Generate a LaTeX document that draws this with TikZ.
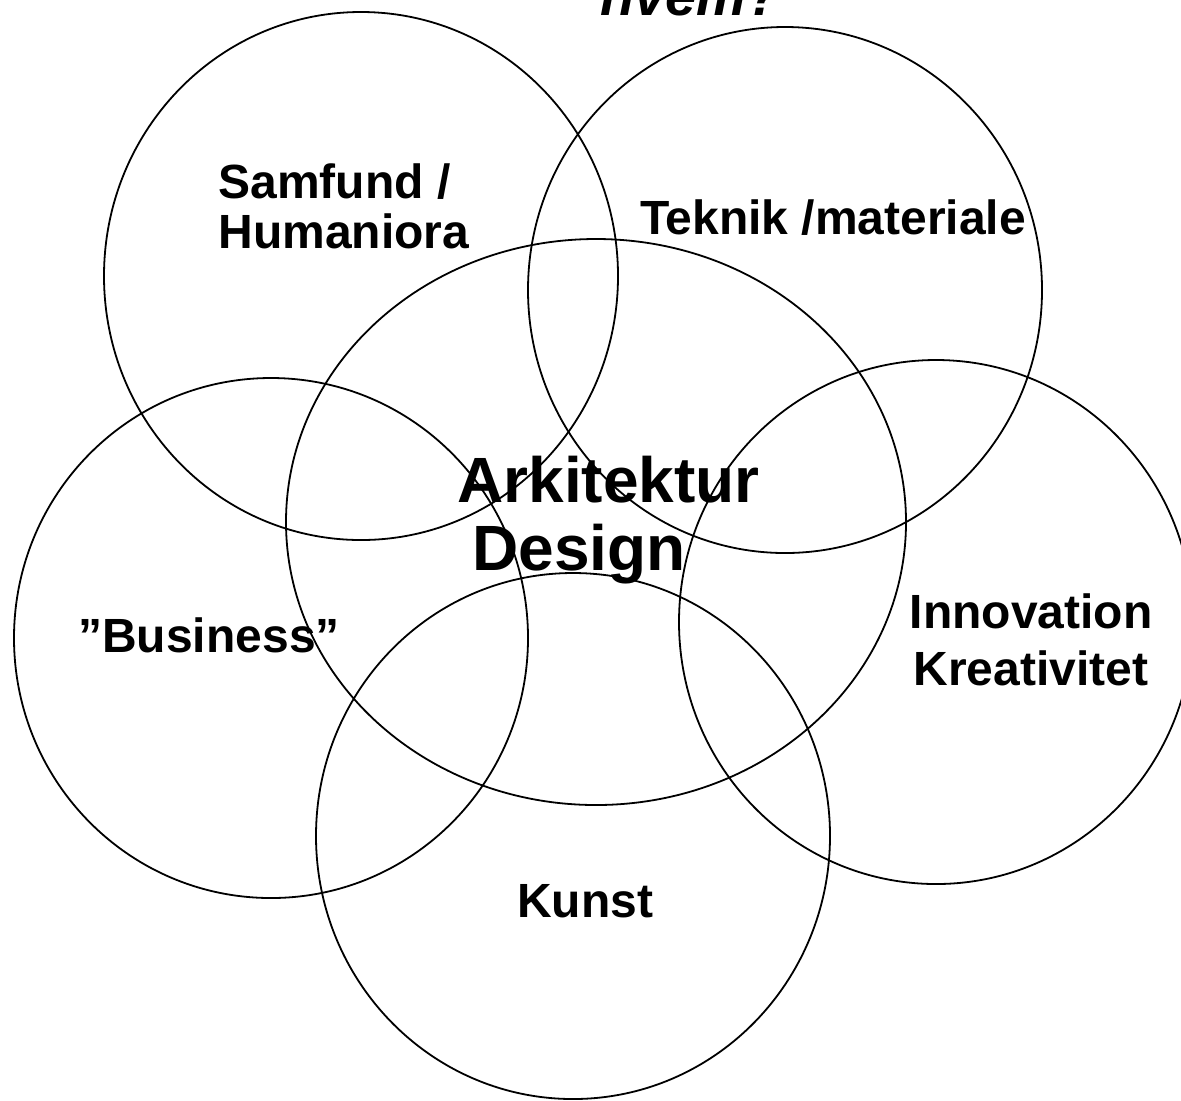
\documentclass[tikz,border=0pt]{standalone}
\usepackage{fontspec}
\setmainfont{Liberation Sans}
\begin{document}
\begin{tikzpicture}[x=0.5pt,y=-0.5pt,
  ring/.style={draw=black,line width=0.9pt},
  lbl/.style={font=\bfseries\fontsize{24}{28}\selectfont,inner sep=0pt},
  big/.style={font=\bfseries\fontsize{32}{36}\selectfont,inner sep=0pt}]
\useasboundingbox (0,0) rectangle (1181,1100);
\begin{scope}
\clip (0,0) rectangle (1181,1100);
\draw[ring] (361,276) ellipse [x radius=257, y radius=264];
\draw[ring] (785,290) ellipse [x radius=257, y radius=263];
\draw[ring] (596,522) ellipse [x radius=310, y radius=283];
\draw[ring] (271,638) ellipse [x radius=257, y radius=260];
\draw[ring] (936,622) ellipse [x radius=257, y radius=262];
\draw[ring] (573,836) ellipse [x radius=257, y radius=263];
\node[font=\bfseries\itshape\fontsize{28}{32}\selectfont,inner sep=0pt,anchor=base west] (hvem) at (600,15) {hvem?};
\end{scope}
\node[lbl,anchor=base west] (s1) at (218,198) {Samfund /};
\node[lbl,anchor=base west] (s2) at (218,248) {Humaniora};
\node[lbl,anchor=base] (t) at (833,234) {Teknik /materiale};
\node[big,anchor=base west] (a1) at (457,502) {Arkitektur};
\node[big,anchor=base west] (a2) at (472,570) {Design};
\node[lbl,anchor=base] (b) at (209,652) {”Business”};
\node[lbl,anchor=base] (i1) at (1031,628) {Innovation};
\node[lbl,anchor=base] (i2) at (1031,685) {Kreativitet};
\node[lbl,anchor=base] (k) at (585,917) {Kunst};
\end{tikzpicture}
\end{document}
